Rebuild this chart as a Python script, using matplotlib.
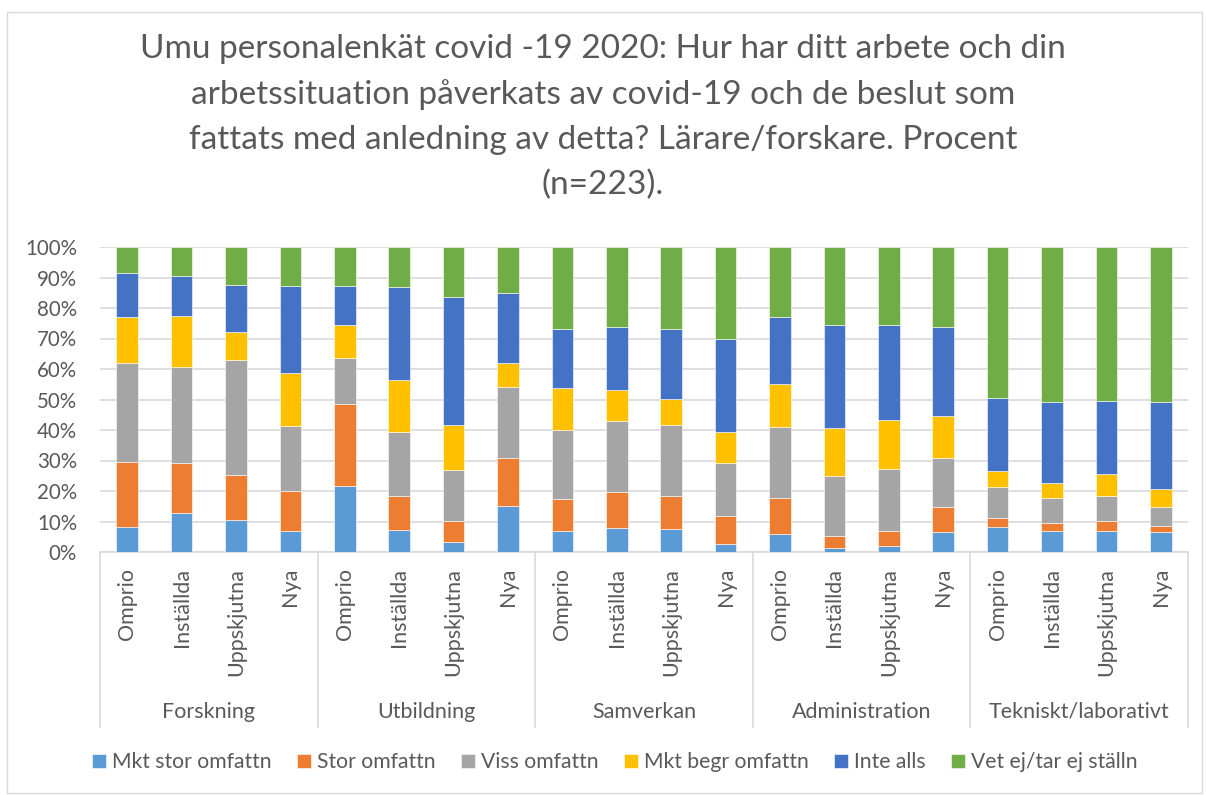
import matplotlib
matplotlib.use("Agg")
import matplotlib.pyplot as plt
from matplotlib.patches import Rectangle
import numpy as np

plt.rcParams['font.family'] = ['Lato', 'DejaVu Sans']

groups = ["Forskning", "Utbildning", "Samverkan", "Administration", "Tekniskt/laborativt"]
subcats = ["Omprio", "Inställda", "Uppskjutna", "Nya"]
series = ["Mkt stor omfattn", "Stor omfattn", "Viss omfattn", "Mkt begr omfattn", "Inte alls", "Vet ej/tar ej ställn"]
colors = ["#5B9BD5", "#ED7D31", "#A5A5A5", "#FFC000", "#4472C4", "#70AD47"]

# values per bar (groups x subcats), in percent
mkt_stor = [8.2, 12.7, 10.4, 6.8,   21.5, 7.3, 3.4, 15.2,   6.9, 7.9, 7.4, 2.7,   5.9, 1.3, 1.9, 6.7,   8.1, 6.8, 6.9, 6.5]
stor     = [21.4, 16.4, 14.8, 13.2, 27.0, 11.0, 6.8, 15.6,  10.4, 11.7, 11.1, 9.0, 11.7, 3.8, 4.9, 8.0,   3.2, 2.7, 3.3, 2.0]
viss     = [32.3, 31.6, 37.6, 21.4, 15.1, 20.9, 16.6, 23.3,  22.6, 23.3, 23.1, 17.4, 23.3, 19.8, 20.4, 16.1, 9.9, 8.1, 8.2, 6.1]
mkt_begr = [15.1, 16.6, 9.2, 17.3,  10.7, 17.3, 14.8, 7.8,   13.8, 10.2, 8.7, 10.3, 14.2, 15.8, 16.2, 13.9, 5.2, 5.1, 7.3, 6.2]
inte     = [14.6, 13.1, 15.6, 28.6, 13.0, 30.5, 42.1, 23.0,  19.5, 20.7, 22.8, 30.4, 21.9, 33.8, 31.0, 29.0, 24.1, 26.5, 23.8, 28.4]
vet_ej   = [8.4, 9.6, 12.4, 12.7,   12.7, 13.0, 16.3, 15.1,  26.8, 26.2, 26.9, 30.2, 23.0, 25.5, 25.6, 26.3, 49.5, 50.8, 50.5, 50.8]

data = [mkt_stor, stor, viss, mkt_begr, inte, vet_ej]

W, H = 1206, 795
fig = plt.figure(figsize=(W / 100, H / 100), dpi=100)
fig.patch.set_facecolor("white")

# outer chart border
fig.patches.append(Rectangle((7 / W, 1 - 793 / H), (1202 - 7) / W, (793 - 12) / H,
                             transform=fig.transFigure, fill=False, edgecolor="#D9D9D9", lw=1.0))

ax_l, ax_r, ax_t, ax_b = 100, 1188, 247, 552
ax = fig.add_axes([ax_l / W, 1 - ax_b / H, (ax_r - ax_l) / W, (ax_b - ax_t) / H])

n = len(groups) * len(subcats)
x = np.arange(n)
bottom = np.zeros(n)
for vals, name, col in zip(data, series, colors):
    v = np.array(vals)
    ax.bar(x, v, 0.4, bottom=bottom, color=col, label=name, edgecolor="white", linewidth=0.4, zorder=3)
    bottom += v

txt_col = "#595959"
fs = 14.8
ax.set_xlim(-0.5, n - 0.5)
ax.set_ylim(0, 100)
ax.set_yticks(np.arange(0, 101, 10))
ax.set_yticklabels([f"{v}%" for v in range(0, 101, 10)], fontsize=fs, color=txt_col)
ax.tick_params(axis="y", length=0, pad=16.5)
ax.yaxis.grid(True, color="#D9D9D9", lw=1.2, zorder=0)
ax.set_axisbelow(True)
for s in ["top", "right", "left"]:
    ax.spines[s].set_visible(False)
ax.spines["bottom"].set_color("#D9D9D9")
ax.spines["bottom"].set_linewidth(1.2)
ax.set_xticks([])

# category labels (rotated)
ax_h = ax_b - ax_t
for i in range(n):
    ax.text(x[i], -16 / ax_h, subcats[i % 4], rotation=90, ha="center", va="top",
            fontsize=15.5, color=txt_col, transform=ax.get_xaxis_transform())

# group labels
for g, name in enumerate(groups):
    ax.text(g * 4 + 1.5, -(712 - ax_b) / ax_h, name, ha="center", va="center",
            fontsize=15.5, color=txt_col, transform=ax.get_xaxis_transform())

# separator lines
for b in np.arange(-0.5, n, 4):
    ax.plot([b, b], [0, -(727 - ax_b) / ax_h], color="#D9D9D9", lw=1.2,
            transform=ax.get_xaxis_transform(), clip_on=False)

# title
fig.text(0.5, 1 - 117 / H,
         "Umu personalenkät covid -19 2020: Hur har ditt arbete och din\n"
         "arbetssituation påverkats av covid-19 och de beslut som\n"
         "fattats med anledning av detta? Lärare/forskare. Procent\n"
         "(n=223).",
         ha="center", va="center", fontsize=24, color=txt_col, linespacing=1.6)

leg = fig.legend(loc="center", bbox_to_anchor=(615 / W, 1 - 762 / H), ncol=6, frameon=False,
                 fontsize=15.2, handlelength=0.65, handleheight=0.65, handletextpad=0.3,
                 columnspacing=1.2)
for t in leg.get_texts():
    t.set_color(txt_col)

fig.savefig("out.png", dpi=100)
